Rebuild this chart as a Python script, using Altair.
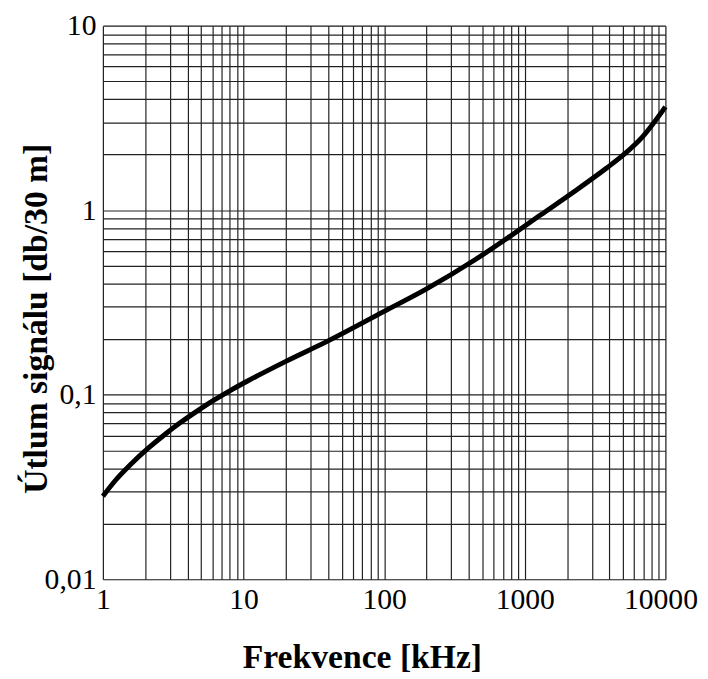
import altair as alt
import pandas as pd

# Curve data (frequency in kHz, attenuation in dB/30 m)
freq = [1, 1.23, 1.6, 2.1, 2.77, 3.6, 4.7, 6.2, 8.1, 10.6, 20, 39, 100, 196, 440, 750,
        1300, 2200, 3800, 5000, 6900, 10000]
atten = [0.0282, 0.0344, 0.0424, 0.0513, 0.0611, 0.0711, 0.0818, 0.0938, 0.1057, 0.1183, 0.1517,
         0.194, 0.283, 0.371, 0.537, 0.705, 0.944, 1.247, 1.687, 1.986, 2.506, 3.63]

x_decades = [1, 10, 100, 1000, 10000]
y_decades = [0.01, 0.1, 1, 10]
multipliers = [1, 2, 3, 4, 5, 6, 7, 8, 9]
x_grid = [d * m for d in x_decades[:-1] for m in multipliers] + [x_decades[-1]]
y_grid = [round(d * m, 4) for d in y_decades[:-1] for m in multipliers] + [y_decades[-1]]

df = pd.DataFrame({"f": freq, "a": atten})

label_expr = ("abs(log(datum.value)/LN10 - round(log(datum.value)/LN10)) < 1e-6 ? "
              "replace(toString(datum.value), '.', ',') : ''")

chart = alt.Chart(df).mark_line(
    color="black", strokeWidth=5, interpolate="monotone"
).encode(
    x=alt.X("f:Q",
            scale=alt.Scale(type="log", domain=[1, 10000], nice=False),
            axis=alt.Axis(values=x_grid, labelExpr=label_expr, title="Frekvence [kHz]",
                          grid=True, gridColor="#222222", gridWidth=1.2, ticks=False, domain=False,
                          labelFont="Liberation Serif", labelFontSize=30, labelColor="black",
                          labelBaseline="alphabetic", labelPadding=30, labelFlush=False,
                          labelOverlap=False,
                          labelOffset=alt.condition("datum.value == 10000", alt.value(-5), alt.value(0)),
                          titleFont="Liberation Serif", titleFontSize=34, titleFontWeight="bold",
                          titleColor="black", titleX=262, titleY=89, titleBaseline="alphabetic",
                          titleAlign="center")),
    y=alt.Y("a:Q",
            scale=alt.Scale(type="log", domain=[0.01, 10], nice=False),
            axis=alt.Axis(values=y_grid, labelExpr=label_expr, title="Útlum signálu [db/30 m]",
                          grid=True, gridColor="#222222", gridWidth=1.2, ticks=False, domain=False,
                          labelFont="Liberation Serif", labelFontSize=30, labelColor="black",
                          labelBaseline="middle", labelPadding=7, labelAlign="right",
                          labelFlush=False, labelOverlap=False,
                          titleFont="Liberation Serif", titleFontSize=34, titleFontWeight="bold",
                          titleColor="black", titleX=-57, titleY=296, titleBaseline="alphabetic",
                          titleAlign="center", titleAngle=270)),
).properties(
    width=569, height=560,
    autosize=alt.AutoSizeParams(type="none"),
    padding={"left": 96, "top": 14, "right": 35, "bottom": 97},
).configure_view(
    stroke="black", strokeWidth=3
).configure(background="white")

chart.save("out.html", embed_options={"renderer": "svg", "actions": False})
